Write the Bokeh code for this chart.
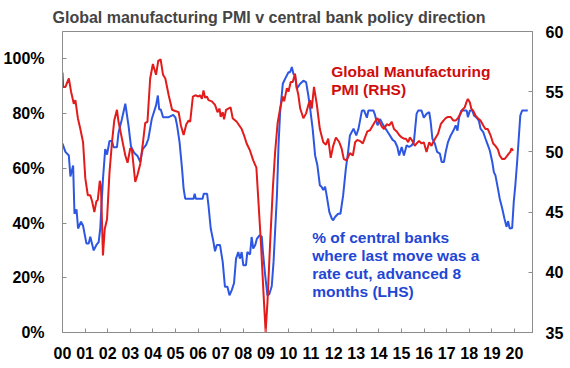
from bokeh.plotting import figure
from bokeh.models import LinearAxis, Range1d, FixedTicker, Label
from bokeh.embed import file_html
from bokeh.resources import INLINE

# ---------------- data (decimal years) ----------------
# Global manufacturing PMI (RHS)
pmi_dates = [2000.00, 2000.03, 2000.13, 2000.28, 2000.38, 2000.50, 2000.57, 2000.68, 2000.79, 2000.91,
             2001.01, 2001.12, 2001.23, 2001.31, 2001.41, 2001.50, 2001.56, 2001.65, 2001.70, 2001.79,
             2001.87, 2001.97, 2002.08, 2002.19, 2002.29, 2002.41, 2002.48, 2002.63, 2002.78, 2002.88,
             2003.00, 2003.07, 2003.22, 2003.32, 2003.44, 2003.55, 2003.66, 2003.76, 2003.88, 2004.00,
             2004.14, 2004.24, 2004.30, 2004.34, 2004.45, 2004.55, 2004.70, 2004.85, 2004.99, 2005.14,
             2005.24, 2005.36, 2005.48, 2005.58, 2005.65, 2005.77, 2005.87, 2006.02, 2006.09, 2006.17,
             2006.24, 2006.31, 2006.39, 2006.46, 2006.61, 2006.75, 2006.86, 2006.95, 2007.00, 2007.09,
             2007.15, 2007.24, 2007.34, 2007.44, 2007.53, 2007.71, 2007.93, 2008.03, 2008.15, 2008.30,
             2008.44, 2008.58, 2008.68, 2008.78, 2008.90, 2008.99, 2009.07, 2009.19, 2009.31, 2009.41,
             2009.52, 2009.63, 2009.75, 2009.81, 2009.93, 2010.00, 2010.10, 2010.19, 2010.29, 2010.37,
             2010.44, 2010.52, 2010.66, 2010.78, 2010.88, 2010.96, 2011.03, 2011.13, 2011.25, 2011.39,
             2011.54, 2011.66, 2011.76, 2011.87, 2011.98, 2012.10, 2012.25, 2012.35, 2012.45, 2012.57,
             2012.72, 2012.85, 2012.95, 2013.05, 2013.17, 2013.29, 2013.39, 2013.49, 2013.61, 2013.73,
             2013.83, 2013.94, 2014.02, 2014.13, 2014.23, 2014.35, 2014.46, 2014.57, 2014.67, 2014.79,
             2014.90, 2015.01, 2015.11, 2015.20, 2015.30, 2015.37, 2015.49, 2015.59, 2015.67, 2015.78,
             2015.89, 2015.99, 2016.11, 2016.23, 2016.33, 2016.40, 2016.52, 2016.62, 2016.74, 2016.86,
             2016.96, 2017.06, 2017.18, 2017.30, 2017.40, 2017.50, 2017.59, 2017.70, 2017.80, 2017.89,
             2017.94, 2018.03, 2018.09, 2018.18, 2018.28, 2018.38, 2018.50, 2018.62, 2018.72, 2018.82,
             2018.94, 2019.06, 2019.16, 2019.27, 2019.35, 2019.46, 2019.56, 2019.65, 2019.75, 2019.82,
             2019.87, 2019.94]
pmi_values = [56.6, 55.4, 55.4, 56.1, 55.0, 54.0, 54.3, 52.8, 51.9, 50.8,
              47.8, 46.4, 46.4, 45.9, 45.0, 45.9, 46.0, 47.6, 47.2, 41.4,
              43.6, 44.4, 48.3, 50.8, 52.6, 53.5, 52.5, 51.1, 49.7, 49.1,
              50.3, 50.2, 47.5, 48.1, 49.0, 50.6, 52.4, 52.5, 56.1, 57.3,
              56.4, 57.6, 57.6, 57.7, 56.4, 56.1, 54.7, 53.5, 53.4, 53.3,
              52.2, 51.4, 52.3, 52.6, 52.5, 54.6, 54.7, 54.6, 54.7, 54.4,
              55.1, 54.5, 54.6, 54.3, 54.2, 53.9, 53.3, 53.6, 52.9, 53.3,
              52.7, 53.5, 53.6, 53.7, 52.8, 52.5, 51.9, 51.4, 50.7, 50.1,
              49.3, 48.7, 45.6, 42.5, 38.1, 35.05, 37.5, 42.5, 47.0, 50.0,
              52.4, 53.6, 54.6, 54.2, 55.3, 55.0, 55.8, 55.8, 56.5, 55.3,
              54.7, 53.6, 52.8, 53.2, 53.9, 54.3, 53.6, 55.4, 54.0, 51.9,
              50.8, 50.6, 51.1, 49.5, 50.5, 51.2, 50.8, 50.3, 49.4, 49.3,
              49.9, 49.7, 50.8, 51.0, 50.9, 50.7, 51.2, 51.7, 51.8, 52.2,
              52.5, 52.8, 52.5, 52.1, 51.9, 52.3, 52.2, 52.5, 51.9, 51.7,
              51.4, 51.2, 51.1, 51.1, 50.8, 51.2, 50.9, 50.5, 50.7, 50.9,
              50.7, 50.8, 50.0, 50.8, 50.5, 50.8, 51.2, 51.5, 52.3, 52.6,
              52.8, 52.9, 52.9, 52.6, 52.6, 52.8, 53.1, 53.5, 53.7, 54.2,
              54.4, 54.1, 53.6, 53.4, 53.0, 52.8, 52.6, 52.2, 51.9, 51.9,
              51.4, 50.7, 50.5, 50.2, 49.7, 49.4, 49.4, 49.6, 49.85, 50.0,
              50.3, 50.1]

# % of central banks where last move was a rate cut, advanced 8 months (LHS)
cut_dates = [2000.00, 2000.13, 2000.28, 2000.35, 2000.47, 2000.53, 2000.62, 2000.69, 2000.82, 2000.91,
             2001.06, 2001.16, 2001.23, 2001.38, 2001.50, 2001.60, 2001.67, 2001.79, 2001.89, 2001.97,
             2002.08, 2002.19, 2002.26, 2002.41, 2002.48, 2002.63, 2002.78, 2002.92, 2003.03, 2003.17,
             2003.32, 2003.44, 2003.55, 2003.70, 2003.80, 2003.95, 2004.14, 2004.22, 2004.28, 2004.35,
             2004.45, 2004.70, 2004.90, 2005.00, 2005.07, 2005.18, 2005.29, 2005.36, 2005.43, 2005.80,
             2005.85, 2005.90, 2006.20, 2006.25, 2006.40, 2006.46, 2006.56, 2006.68, 2006.75, 2006.83,
             2006.97, 2007.09, 2007.19, 2007.30, 2007.39, 2007.49, 2007.59, 2007.68, 2007.78, 2007.85,
             2007.93, 2008.00, 2008.12, 2008.18, 2008.30, 2008.37, 2008.44, 2008.53, 2008.60, 2008.72,
             2008.82, 2008.87, 2008.97, 2009.07, 2009.15, 2009.26, 2009.34, 2009.49, 2009.56, 2009.63,
             2009.75, 2009.85, 2010.00, 2010.07, 2010.15, 2010.22, 2010.29, 2010.37, 2010.52, 2010.66,
             2010.78, 2010.88, 2010.96, 2011.07, 2011.18, 2011.28, 2011.39, 2011.47, 2011.54, 2011.62,
             2011.69, 2011.81, 2011.92, 2011.98, 2012.06, 2012.20, 2012.30, 2012.42, 2012.54, 2012.64,
             2012.72, 2012.88, 2013.00, 2013.10, 2013.25, 2013.35, 2013.47, 2013.54, 2013.76, 2013.83,
             2013.94, 2014.05, 2014.20, 2014.35, 2014.49, 2014.61, 2014.71, 2014.82, 2014.90, 2015.01,
             2015.11, 2015.23, 2015.34, 2015.45, 2015.55, 2015.67, 2015.74, 2015.89, 2015.99, 2016.11,
             2016.23, 2016.29, 2016.37, 2016.48, 2016.58, 2016.70, 2016.78, 2016.88, 2016.96, 2017.06,
             2017.18, 2017.30, 2017.40, 2017.48, 2017.55, 2017.65, 2017.89, 2017.94, 2018.03, 2018.14,
             2018.21, 2018.33, 2018.43, 2018.50, 2018.62, 2018.72, 2018.80, 2018.91, 2019.02, 2019.09,
             2019.16, 2019.27, 2019.35, 2019.46, 2019.56, 2019.65, 2019.72, 2019.79, 2019.90, 2019.97,
             2020.04, 2020.12, 2020.19, 2020.26, 2020.34, 2020.59]
cut_share = [69.0, 66.0, 64.7, 57.0, 61.0, 43.4, 45.0, 38.0, 40.5, 39.0,
             32.5, 32.5, 35.0, 30.0, 32.0, 33.0, 38.0, 56.0, 67.0, 65.0,
             70.0, 70.0, 67.7, 67.7, 73.0, 78.0, 83.6, 75.7, 68.0, 65.7,
             64.5, 62.4, 67.0, 68.6, 70.8, 78.0, 83.0, 86.6, 81.5, 81.5,
             78.7, 78.7, 79.5, 78.5, 75.7, 69.6, 59.9, 52.6, 48.9, 48.9,
             50.7, 48.9, 48.9, 50.7, 50.7, 46.5, 38.0, 33.1, 29.7, 32.0,
             32.0, 25.8, 16.7, 16.7, 13.6, 15.5, 18.0, 27.0, 29.4, 27.0,
             29.4, 24.6, 24.6, 29.4, 28.5, 34.9, 30.7, 32.0, 34.2, 35.5,
             35.0, 29.4, 20.9, 13.6, 14.0, 16.9, 25.8, 50.1, 68.4, 80.5,
             90.9, 92.7, 95.1, 95.1, 97.0, 94.5, 93.9, 89.1, 90.9, 92.0,
             91.5, 86.6, 81.8, 74.5, 64.7, 61.1, 53.8, 53.2, 52.1, 53.3,
             50.1, 44.0, 41.6, 41.0, 42.2, 43.4, 43.4, 50.1, 59.9, 66.0,
             72.0, 74.5, 72.0, 74.5, 81.1, 81.1, 78.5, 81.1, 81.1, 79.5,
             75.7, 78.0, 75.7, 73.8, 72.0, 70.4, 69.8, 67.8, 64.7, 67.8,
             64.7, 68.4, 67.8, 68.4, 69.6, 79.9, 81.1, 81.1, 78.5, 79.9,
             80.5, 77.3, 70.8, 69.0, 66.0, 65.4, 62.3, 62.3, 66.0, 69.6,
             72.0, 73.8, 75.7, 73.8, 78.5, 81.1, 81.1, 78.7, 81.1, 81.1,
             79.3, 78.5, 77.3, 74.5, 73.2, 70.8, 69.0, 66.5, 62.3, 58.6,
             57.4, 52.6, 48.9, 45.3, 41.6, 38.6, 40.7, 38.0, 38.2, 47.7,
             53.8, 62.3, 70.8, 79.3, 81.1, 81.1]

year_ticks = list(range(2000, 2021))
year_labels = ["00", "01", "02", "03", "04", "05", "06", "07", "08", "09", "10",
               "11", "12", "13", "14", "15", "16", "17", "18", "19", "20"]
lhs_ticks = [0, 20, 40, 60, 80, 100]
lhs_labels = ["0%", "20%", "40%", "60%", "80%", "100%"]
rhs_ticks = [35, 40, 45, 50, 55, 60]

TITLE = "Global manufacturing PMI v central bank policy direction"
RED_NOTE = ["Global Manufacturing", "PMI (RHS)"]
BLUE_NOTE = ["% of central banks", "where last move was a", "rate cut, advanced 8", "months (LHS)"]

# ---------------- styling ----------------
RED = "#E21B1B"
BLUE = "#2D57E2"
RED_TXT = "#D00C0C"
BLUE_TXT = "#1F47D4"
GREY = "#8C8C8C"
FONT = "Liberation Sans"

p = figure(width=568, height=366,
           x_range=Range1d(2000, 2020.8), y_range=Range1d(0, 110),
           output_backend="svg", toolbar_location=None,
           min_border_left=60, min_border_right=36, min_border_top=31, min_border_bottom=34)
p.extra_y_ranges = {"pmi": Range1d(35, 60)}

p.title.text = TITLE
p.title.text_font = FONT
p.title.text_font_size = "16px"
p.title.text_font_style = "bold"
p.title.align = "left"
p.title.offset = -10
p.title.standoff = 12

p.xgrid.visible = False
p.ygrid.visible = False
p.outline_line_color = GREY
p.background_fill_color = "white"
p.border_fill_color = "white"

p.line(cut_dates, cut_share, line_color=BLUE, line_width=2)
p.line(pmi_dates, pmi_values, line_color=RED, line_width=2, y_range_name="pmi")

rax = LinearAxis(y_range_name="pmi")
p.add_layout(rax, "right")

xa = p.xaxis[0]
xa.ticker = FixedTicker(ticks=year_ticks)
xa.major_label_overrides = dict(zip(year_ticks, year_labels))
xa.major_label_standoff = 14

la = p.yaxis[0]
la.ticker = FixedTicker(ticks=lhs_ticks)
la.major_label_overrides = dict(zip(lhs_ticks, lhs_labels))
la.major_label_standoff = 18

rax.ticker = FixedTicker(ticks=rhs_ticks)
rax.major_label_standoff = 13

for ax in (xa, la, rax):
    ax.axis_line_color = GREY
    ax.major_tick_line_color = GREY
    ax.major_tick_in = 4
    ax.major_tick_out = 0
    ax.minor_tick_line_color = None
    ax.major_label_text_font = FONT
    ax.major_label_text_font_size = "16px"
    ax.major_label_text_font_style = "bold"
    ax.major_label_text_color = "black"

# annotations
for i, t in enumerate(RED_NOTE):
    p.add_layout(Label(x=2011.89, y=95.3 - i * 6.6, text=t, text_font=FONT,
                       text_font_size="15.5px", text_font_style="bold",
                       text_color=RED_TXT, text_baseline="middle", text_align="left"))
for i, t in enumerate(BLUE_NOTE):
    p.add_layout(Label(x=2011.05, y=34.7 - i * 6.6, text=t, text_font=FONT,
                       text_font_size="15.5px", text_font_style="bold",
                       text_color=BLUE_TXT, text_baseline="middle", text_align="left"))

open("out.html", "w").write(file_html(p, INLINE))
